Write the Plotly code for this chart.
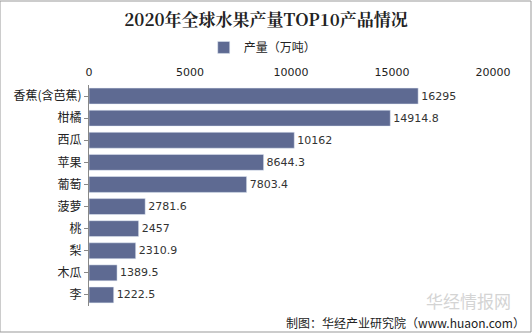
import plotly.graph_objects as go

categories = ["香蕉(含芭蕉)", "柑橘", "西瓜", "苹果", "葡萄", "菠萝", "桃", "梨", "木瓜", "李"]
values = [16295, 14914.8, 10162, 8644.3, 7803.4, 2781.6, 2457, 2310.9, 1389.5, 1222.5]
labels = ["16295", "14914.8", "10162", "8644.3", "7803.4", "2781.6", "2457", "2310.9", "1389.5", "1222.5"]
tick_vals = [0, 5000, 10000, 15000, 20000]
tick_text = ["0", "5000", "10000", "15000", "20000"]

fig = go.Figure()
fig.add_trace(go.Bar(
    y=categories, x=values, orientation="h",
    name="产量（万吨）",
    marker=dict(color="#5E6A92"),
    text=labels, textposition="outside",
    textfont=dict(size=11, color="#333333", family="DejaVu Sans"),
    width=0.72, cliponaxis=False,
))
fig.update_layout(
    width=532, height=333,
    margin=dict(l=89, r=39, t=85, b=27),
    paper_bgcolor="white", plot_bgcolor="white",
    title=dict(text="<b>2020年全球水果产量TOP10产品情况</b>", x=0.5, xanchor="center", y=0.94, yanchor="middle",
               font=dict(size=17, family="Noto Serif CJK SC, Noto Sans CJK SC", color="#222222")),
    showlegend=True,
    legend=dict(orientation="h", x=0.43, xanchor="center", y=1.17, yanchor="middle",
                font=dict(size=12, family="Noto Sans CJK SC", color="#222222"),
                itemwidth=30, bgcolor="rgba(0,0,0,0)"),
    xaxis=dict(side="top", range=[0, 20000], tickvals=tick_vals, ticktext=tick_text, showgrid=False, zeroline=False,
               showline=False, ticklabelstandoff=6,
               tickfont=dict(size=11, family="DejaVu Sans", color="#222222")),
    yaxis=dict(autorange="reversed", showline=True, linecolor="#888888", linewidth=1,
               ticks="outside", ticklen=4, tickcolor="#888888",
               tickfont=dict(size=12, family="Noto Sans CJK SC", color="#222222")),
    shapes=[dict(type="rect", xref="paper", yref="paper", x0=-89/404, x1=1+38/404, y0=-26/221, y1=1+84/221,
                 line=dict(color="#999999", width=1))],
    annotations=[
        dict(text="制图：华经产业研究院（www.huaon.com）", xref="paper", yref="paper",
             x=1.085, y=-0.075, xanchor="right", yanchor="middle", showarrow=False,
             font=dict(size=12, family="Noto Sans CJK SC", color="#222222")),
        dict(text="华经情报网", xref="paper", yref="paper", x=1.05, y=0.025, xanchor="right", yanchor="middle",
             showarrow=False, font=dict(size=17, family="Noto Sans CJK SC", color="#D4D4D4")),
    ],
)
fig.write_html("out.html")
